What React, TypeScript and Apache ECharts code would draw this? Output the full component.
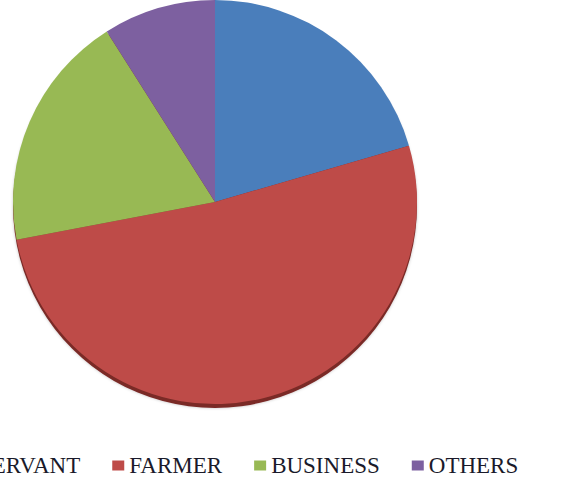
import React, { useEffect, useRef } from "react";
import * as echarts from "echarts";

const categories = ["SERVANT", "FARMER", "BUSINESS", "OTHERS"];
const values = [41, 103, 38, 18];
const colors = ["#4A7EBB", "#BE4B48", "#98B954", "#7D60A0"];

export default function App() {
  const ref = useRef<HTMLDivElement>(null);
  useEffect(() => {
    document.documentElement.style.overflow = "hidden";
    document.body.style.overflow = "hidden";
    const chart = echarts.init(ref.current!, undefined, { renderer: "svg" });
    const shift = 80;
    chart.setOption({
      animation: false,
      legend: {
        data: categories,
        left: 37,
        top: 449,
        orient: "horizontal",
        itemWidth: 12,
        itemHeight: 10,
        itemGap: 32,
        icon: "rect",
        textStyle: {
          fontFamily: "Liberation Serif",
          fontSize: 23,
          color: "#1a1a2a",
        },
      },
      series: [
        {
          type: "pie",
          silent: true,
          center: [215 + shift, 206],
          radius: 202,
          startAngle: 90,
          label: { show: false },
          labelLine: { show: false },
          itemStyle: { color: "#7a2a28", shadowBlur: 3, shadowColor: "rgba(0,0,0,0.25)" },
          data: [{ name: "base", value: 1 }],
          z: 1,
        },
        {
          type: "pie",
          center: [215 + shift, 202],
          radius: 202,
          startAngle: 90,
          clockwise: true,
          label: { show: false },
          labelLine: { show: false },
          itemStyle: { borderWidth: 0 },
          data: categories.map((c, i) => ({
            name: c,
            value: values[i],
            itemStyle: { color: colors[i] },
          })),
          z: 2,
        },
      ],
    });
    return () => chart.dispose();
  }, []);
  return (
    <div
      ref={ref}
      style={{ position: "absolute", left: -80, top: 0, width: 800, height: 479, background: "#fff" }}
    />
  );
}
